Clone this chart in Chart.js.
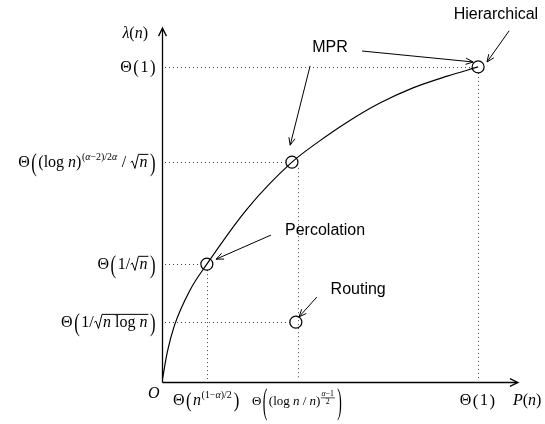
<!DOCTYPE html>
<html>
<head>
<meta charset="utf-8">
<script src="https://cdn.jsdelivr.net/npm/chart.js@4/dist/chart.umd.min.js"></script>
<style>
  html, body { margin: 0; background: #fff; }
</style>
</head>
<body>
<canvas id="tradeoffChart" width="545" height="424"></canvas>
<script>
// throughput-delay trade-off, values on an abstract 0..100 scale
const curveP      = [0, 1.5, 3.5, 7.9, 12.6, 24.0, 36.5, 44.0, 52.0, 61.2, 70.5, 80.1, 88.8];
const curveLambda = [0, 8.5, 16.0, 26.0, 33.3, 49.0, 62.1, 67.9, 73.4, 78.8, 83.1, 86.4, 89.0];

const schemes      = ["Hierarchical", "MPR", "Percolation", "Routing"];
const schemeP      = [88.8, 36.5, 12.6, 37.6];
const schemeLambda = [89.0, 62.1, 33.3, 16.9];

// tick labels as little math token lists: r = roman, i = italic
const lambdaTicks = [89.0, 62.1, 33.3, 16.9];
const lambdaTickText = [
  [["r", "Θ"], ["big", "(", 1.15], ["r", "1"], ["big", ")", 1.15]],
  [["r", "Θ"], ["big", "(", 1.6], ["r", "(log "], ["i", "n"], ["r", ")"],
   ["sup", [["r", "("], ["i", "α"], ["r", "−2)/2"], ["i", "α"]]],
   ["r", " / "], ["sqrt", [["i", "n"]]], ["big", ")", 1.6]],
  [["r", "Θ"], ["big", "(", 1.6], ["r", "1/"], ["sqrt", [["i", "n"]]], ["big", ")", 1.6]],
  [["r", "Θ"], ["big", "(", 1.6], ["r", "1/"], ["sqrt", [["i", "n"], ["r", " log "], ["i", "n"]]], ["big", ")", 1.6]]
];
const pTicks = [12.6, 38.1, 88.8];
const pTickText = [
  [["r", "Θ"], ["big", "(", 1.3], ["i", "n"], ["sup", [["r", "(1−"], ["i", "α"], ["r", ")/2"]]], ["big", ")", 1.3]],
  [["r", "Θ"], ["big", "(", 2.8], ["r", "(log "], ["i", "n"], ["r", " / "], ["i", "n"], ["r", ")"],
   ["frac", [["i", "α"], ["r", "−1"]], [["r", "2"]]], ["big", ")", 2.8]],
  [["r", "Θ"], ["big", "(", 1.1], ["r", "1"], ["big", ")", 1.1]]
];
const pTickSize = [16, 13, 16];
// which scheme each vertical guide rises to
const pTickScheme = [2, 1, 0];

// annotation placement (data units): label centre, arrow tail, arrow head
const notes = [
  { text: "Hierarchical", at: [93.8, 103.7], arrows: [[[97.5, 99.2], [91.3, 90.4]]] },
  { text: "MPR", at: [47.2, 94.4], arrows: [[[56.2, 93.5], [87.4, 90.4]], [[41.6, 89.3], [36.0, 66.9]]] },
  { text: "Percolation", at: [45.8, 42.7], arrows: [[[30.6, 41.5], [15.2, 34.7]]] },
  { text: "Routing", at: [55.1, 26.0], arrows: [[[43.5, 24.0], [38.5, 18.4]]] }
];

const SERIF = '"Liberation Serif", "DejaVu Serif", serif';
const SANS = '"Liberation Sans", Arial, sans-serif';

function mathWidth(ctx, toks, size) {
  let w = 0;
  for (const t of toks) {
    const k = t[0];
    if (k === "r" || k === "i") {
      ctx.font = (k === "i" ? "italic " : "") + size + "px " + SERIF;
      w += ctx.measureText(t[1]).width;
    } else if (k === "sup") {
      w += mathWidth(ctx, t[1], size * 0.62) + 1;
    } else if (k === "sqrt") {
      w += size * 0.58 + mathWidth(ctx, t[1], size) + 1;
    } else if (k === "big") {
      ctx.font = size * 1.05 + "px " + SERIF;
      w += ctx.measureText(t[1]).width + 3;
    } else if (k === "frac") {
      w += Math.max(mathWidth(ctx, t[1], size * 0.6), mathWidth(ctx, t[2], size * 0.6)) + 3;
    }
  }
  return w;
}

function mathDraw(ctx, toks, x, y, size) {
  ctx.textAlign = "left";
  ctx.textBaseline = "alphabetic";
  for (const t of toks) {
    const k = t[0];
    if (k === "r" || k === "i") {
      ctx.font = (k === "i" ? "italic " : "") + size + "px " + SERIF;
      ctx.fillText(t[1], x, y);
      x += ctx.measureText(t[1]).width;
    } else if (k === "sup") {
      mathDraw(ctx, t[1], x + 0.5, y - size * 0.42, size * 0.62);
      x += mathWidth(ctx, t[1], size * 0.62) + 1;
    } else if (k === "sqrt") {
      const cw = mathWidth(ctx, t[1], size);
      const top = y - size * 0.8;
      ctx.beginPath();
      ctx.moveTo(x + 0.5, y - size * 0.3);
      ctx.lineTo(x + size * 0.14, y - size * 0.38);
      ctx.lineTo(x + size * 0.3, y + size * 0.08);
      ctx.lineTo(x + size * 0.52, top);
      ctx.lineTo(x + size * 0.58 + cw + 1, top);
      ctx.lineWidth = 1;
      ctx.stroke();
      mathDraw(ctx, t[1], x + size * 0.58, y, size);
      x += size * 0.58 + cw + 1;
    } else if (k === "big") {
      const P = size * 1.05;
      ctx.font = P + "px " + SERIF;
      const w = ctx.measureText(t[1]).width;
      ctx.save();
      ctx.translate(x + 1.5, y - size * 0.3);
      ctx.scale(1, (t[2] || 1.4) / 1.05);
      ctx.fillText(t[1], 0, P * 0.33);
      ctx.restore();
      x += w + 3;
    } else if (k === "frac") {
      const s = size * 0.6;
      const nw = mathWidth(ctx, t[1], s), dw = mathWidth(ctx, t[2], s);
      const fw = Math.max(nw, dw) + 2;
      const bar = y - size * 0.55;
      ctx.beginPath();
      ctx.moveTo(x + 0.5, bar);
      ctx.lineTo(x + fw, bar);
      ctx.lineWidth = 0.7;
      ctx.stroke();
      mathDraw(ctx, t[1], x + 1 + (fw - 2 - nw) / 2, bar - 1.5, s);
      mathDraw(ctx, t[2], x + 1 + (fw - 2 - dw) / 2, bar + s * 0.75, s);
      x += fw + 1;
    }
  }
  return x;
}

function arrow(ctx, x1, y1, x2, y2, head, spread) {
  const a = Math.atan2(y2 - y1, x2 - x1);
  ctx.beginPath();
  ctx.moveTo(x1, y1);
  ctx.lineTo(x2, y2);
  ctx.moveTo(x2 - head * Math.cos(a - spread), y2 - head * Math.sin(a - spread));
  ctx.lineTo(x2, y2);
  ctx.lineTo(x2 - head * Math.cos(a + spread), y2 - head * Math.sin(a + spread));
  ctx.stroke();
}

const diagram = {
  id: "diagram",
  beforeDatasetsDraw(chart) {
    const { ctx, scales: { x, y } } = chart;
    const r = 6;
    ctx.save();
    ctx.strokeStyle = "#444";
    ctx.lineWidth = 1;
    ctx.setLineDash([1, 3]);
    // horizontal guides from the lambda axis to each scheme
    schemeP.forEach((p, i) => {
      const py = Math.round(y.getPixelForValue(schemeLambda[i])) + 0.5;
      ctx.beginPath();
      ctx.moveTo(x.left + 3, py);
      ctx.lineTo(x.getPixelForValue(p) - r, py);
      ctx.stroke();
    });
    // vertical guides down to the P axis
    pTicks.forEach((p, i) => {
      const px = Math.round(x.getPixelForValue(p)) + 0.5;
      ctx.beginPath();
      ctx.moveTo(px, y.getPixelForValue(schemeLambda[pTickScheme[i]]) + r);
      ctx.lineTo(px, y.bottom - 2);
      ctx.stroke();
    });
    ctx.restore();
  },
  afterDraw(chart) {
    const { ctx, scales: { x, y } } = chart;
    const ox = x.left + 0.5, oy = y.bottom + 0.5;
    ctx.save();
    ctx.strokeStyle = "#000";
    ctx.fillStyle = "#000";
    ctx.lineWidth = 1.3;
    // axes with open arrow heads
    arrow(ctx, ox, oy, ox, y.top, 9, 0.45);
    arrow(ctx, ox, oy, x.right, oy, 9, 0.45);

    // axis names and origin
    const lam = [["i", "λ"], ["r", "("], ["i", "n"], ["r", ")"]];
    mathDraw(ctx, lam, 148 - mathWidth(ctx, lam, 16), 38, 16);
    mathDraw(ctx, [["i", "P"], ["r", "("], ["i", "n"], ["r", ")"]], 513, 405, 16);
    mathDraw(ctx, [["i", "O"]], 148, 398, 16);

    // tick labels
    lambdaTicks.forEach((v, i) => {
      const w = mathWidth(ctx, lambdaTickText[i], 16);
      mathDraw(ctx, lambdaTickText[i], 157 - w, y.getPixelForValue(v) + 5, 16);
    });
    pTicks.forEach((v, i) => {
      const w = mathWidth(ctx, pTickText[i], pTickSize[i]);
      mathDraw(ctx, pTickText[i], x.getPixelForValue(v) - w / 2, 405, pTickSize[i]);
    });

    // scheme annotations
    ctx.lineWidth = 1;
    ctx.font = "16px " + SANS;
    ctx.textAlign = "center";
    ctx.textBaseline = "middle";
    notes.forEach(n => {
      ctx.fillText(n.text, x.getPixelForValue(n.at[0]), y.getPixelForValue(n.at[1]));
      n.arrows.forEach(([from, to]) => {
        arrow(ctx, x.getPixelForValue(from[0]), y.getPixelForValue(from[1]),
              x.getPixelForValue(to[0]), y.getPixelForValue(to[1]), 8, 0.4);
      });
    });
    ctx.restore();
  }
};

new Chart(document.getElementById("tradeoffChart"), {
  type: "scatter",
  data: {
    datasets: [
      {
        label: "Schemes",
        data: schemeP.map((p, i) => ({ x: p, y: schemeLambda[i] })),
        pointRadius: 6,
        pointBackgroundColor: "rgba(0,0,0,0)",
        pointBorderColor: "#000",
        pointBorderWidth: 1.2,
        showLine: false
      },
      {
        label: "Trade-off",
        type: "line",
        data: curveP.map((p, i) => ({ x: p, y: curveLambda[i] })),
        borderColor: "#000",
        borderWidth: 1.2,
        pointRadius: 0,
        cubicInterpolationMode: "monotone",
        fill: false
      }
    ]
  },
  options: {
    responsive: false,
    animation: false,
    layout: { padding: { left: 162, right: 27, top: 28, bottom: 42 } },
    plugins: {
      legend: { display: false },
      tooltip: { enabled: false }
    },
    scales: {
      x: { type: "linear", min: 0, max: 100, display: false },
      y: { type: "linear", min: 0, max: 100, display: false }
    }
  },
  plugins: [diagram]
});
</script>
</body>
</html>
